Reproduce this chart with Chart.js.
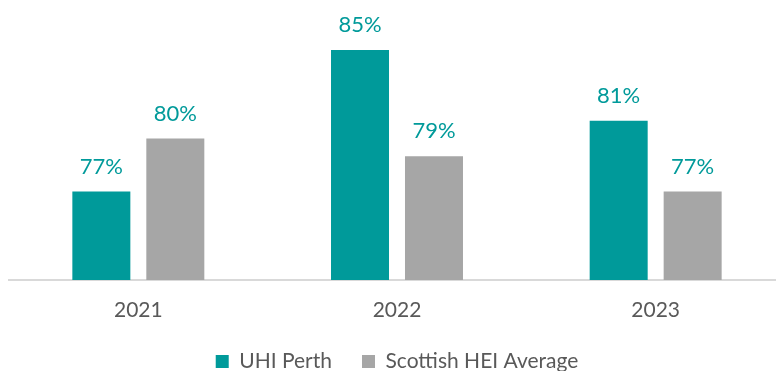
<!DOCTYPE html>
<html><head><meta charset="utf-8">
<script src="https://cdn.jsdelivr.net/npm/chart.js@4"></script>
<style>html,body{margin:0;padding:0;overflow:hidden;background:#fff}#wrap{width:794px;height:371px;position:relative}</style>
</head><body><div id="wrap"><canvas id="c"></canvas></div>
<script>
const categories = ['2021', '2022', '2023'];
const uhiPerth = [77, 85, 81];
const scottishAvg = [80, 79, 77];
const seriesNames = ['UHI Perth', 'Scottish HEI Average'];

const labelPlugin = {
  id: 'valueLabels',
  afterDatasetsDraw(chart) {
    const ctx = chart.ctx;
    ctx.save();
    ctx.font = '22px Lato';
    ctx.fillStyle = '#009A9A';
    ctx.textAlign = 'center';
    ctx.textBaseline = 'bottom';
    chart.data.datasets.forEach((ds, i) => {
      chart.getDatasetMeta(i).data.forEach((bar, j) => {
        ctx.fillText(ds.data[j] + '%', bar.x, bar.y - 14);
      });
    });
    ctx.restore();
  }
};

new Chart(document.getElementById('c'), {
  type: 'bar',
  data: {
    labels: categories,
    datasets: [
      { label: seriesNames[0], data: uhiPerth, backgroundColor: '#009A9A', categoryPercentage: 0.572, barPercentage: 0.784 },
      { label: seriesNames[1], data: scottishAvg, backgroundColor: '#A6A6A6', categoryPercentage: 0.572, barPercentage: 0.784 }
    ]
  },
  options: {
    responsive: true,
    maintainAspectRatio: false,
    animation: false,
    layout: { padding: { left: 9, right: 9, top: 10, bottom: 0 } },
    plugins: {
      tooltip: { enabled: false },
      legend: {
        position: 'bottom',
        maxHeight: 50,
        labels: { font: { family: 'Lato', size: 21 }, color: '#595959', boxWidth: 13, boxHeight: 13, padding: 30 }
      }
    },
    scales: {
      x: {
        grid: { display: false },
        border: { display: true, color: '#D9D9D9', width: 2 },
        ticks: { font: { family: 'Lato', size: 21 }, color: '#595959', padding: 10 },
        afterFit(scale) { scale.height = 41; }
      },
      y: { display: false, min: 72, max: 87.26 }
    }
  },
  plugins: [labelPlugin]
});
</script></body></html>
